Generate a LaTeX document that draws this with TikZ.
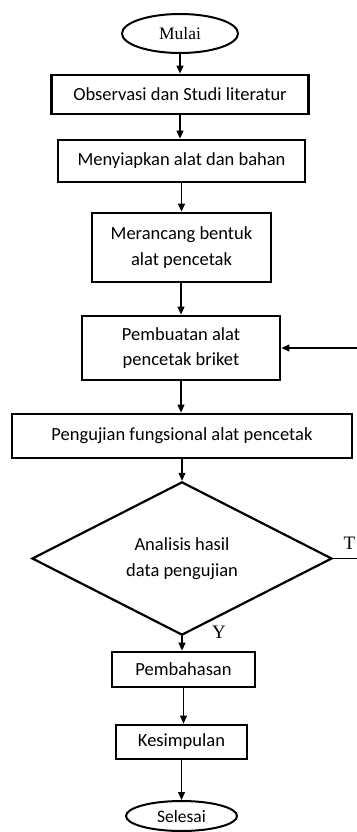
\documentclass[tikz,border=0pt]{standalone}
\usepackage{fontspec}
\setmainfont{Carlito}
\newfontfamily\serifface{Liberation Serif}
\usetikzlibrary{shapes.geometric,arrows.meta}
\begin{document}
\begin{tikzpicture}[x=1pt,y=-1pt,
  box/.style={draw,line width=2.8pt,rectangle,inner sep=0pt,align=center,font=\fontsize{18.5}{25.5}\selectfont},
  term/.style={draw,line width=2pt,ellipse,inner sep=0pt},
  dec/.style={draw,line width=2.2pt,diamond,inner sep=0pt,align=center,font=\fontsize{18.5}{25.5}\selectfont},
  arr/.style={line width=1.2pt,-{Triangle[length=8pt,width=7pt]}},
  lbl/.style={font=\serifface\fontsize{19}{20}\selectfont,inner sep=0pt}]
\useasboundingbox (0,0) rectangle (356,832);
\node[term,minimum width=116pt,minimum height=39pt,font=\serifface\fontsize{17.5}{20}\selectfont] (mulai) at (180,33.5) {Mulai};
\node[box,minimum width=257pt,minimum height=39pt] (obs) at (180,94.5) {Observasi dan Studi literatur};
\node[box,minimum width=247pt,minimum height=42pt] (siap) at (181.5,161) {Menyiapkan alat dan bahan};
\node[box,minimum width=179pt,minimum height=69pt] (rancang) at (181.5,247.5) {Merancang bentuk\\alat pencetak};
\node[box,minimum width=198pt,minimum height=64pt] (buat) at (181,348) {Pembuatan alat\\pencetak briket};
\node[box,minimum width=340pt,minimum height=44pt] (uji) at (182,436) {Pengujian fungsional alat pencetak};
\node[dec,minimum width=300pt,minimum height=127pt] (an) at (182,558.5) {Analisis hasil\\data pengujian};
\node[box,minimum width=143pt,minimum height=35pt] (bahas) at (183.5,669.5) {Pembahasan};
\node[box,minimum width=131pt,minimum height=34pt] (simpul) at (181.5,742) {Kesimpulan};
\node[term,minimum width=111pt,minimum height=30pt,font=\fontsize{17.5}{20}\selectfont] (selesai) at (181.5,816) {Selesai};
\node[lbl] (ylab) at (219,632) {Y};
\node[lbl,anchor=west] (tlab) at (343.5,543) {T};
\coordinate (fbx) at (363,0);
\draw[arr] (mulai.south) -- (mulai.south |- obs.north);
\draw[arr] (obs.south) -- (obs.south |- siap.north);
\draw[arr] (rancang.north |- siap.south) -- (rancang.north);
\draw[arr] (buat.north |- rancang.south) -- (buat.north);
\draw[arr] (buat.south) -- (buat.south |- uji.north);
\draw[arr] (an.north |- uji.south) -- (an.north);
\draw[arr] (an.south) -- (an.south |- bahas.north);
\draw[arr] (bahas.south) -- (bahas.south |- simpul.north);
\draw[arr] (selesai.north |- simpul.south) -- (selesai.north);
\draw[arr] (an.east) -- (an.east -| fbx) -- (fbx |- buat.east) -- (buat.east);
\end{tikzpicture}
\end{document}
